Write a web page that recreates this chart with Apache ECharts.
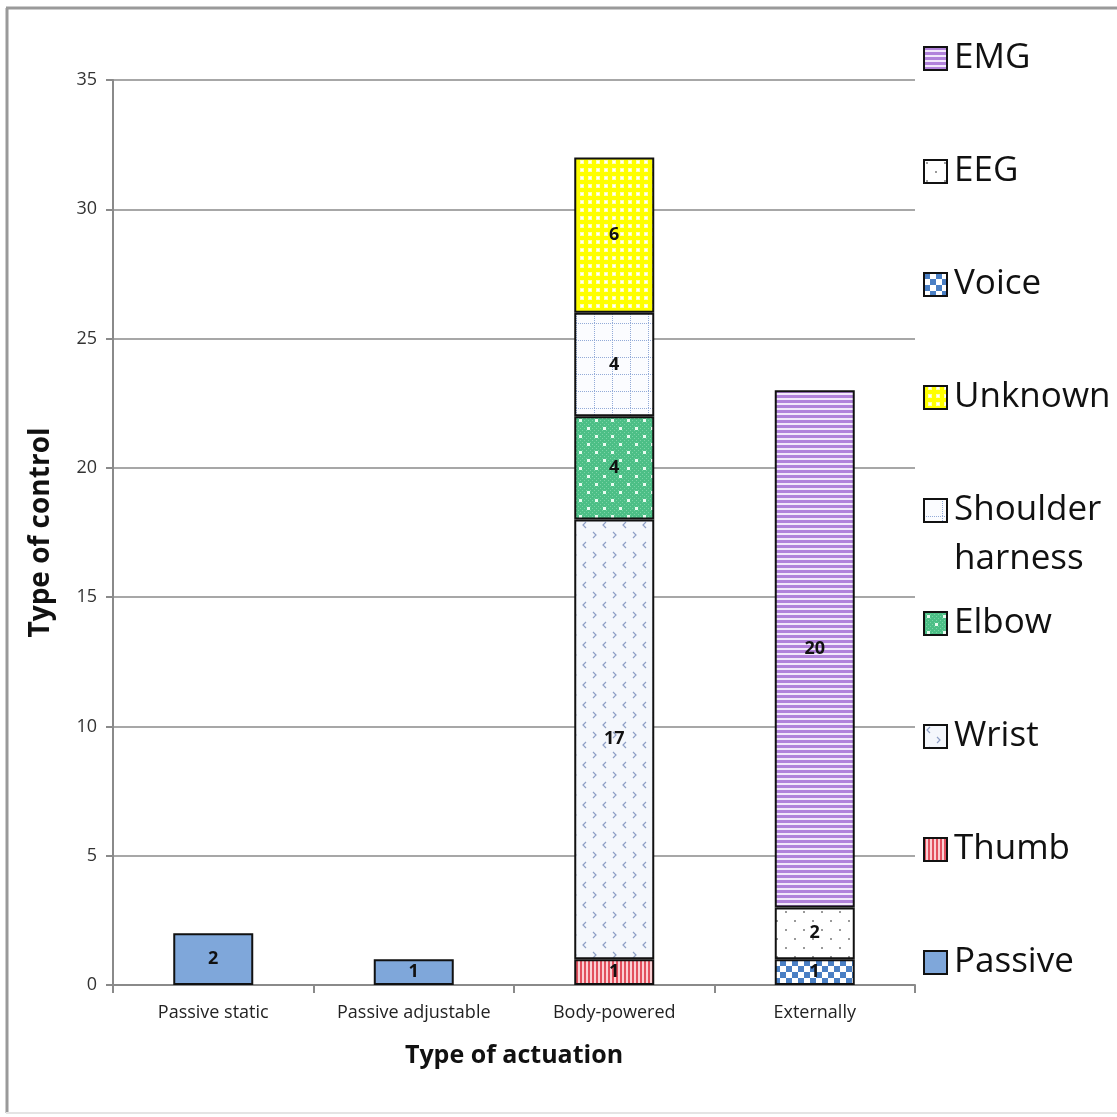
<!DOCTYPE html>
<html>
<head>
<meta charset="utf-8">
<style>
html,body{margin:0;padding:0;background:#fff;}
#chart{width:1117px;height:1117px;}
</style>
<script src="https://cdn.jsdelivr.net/npm/echarts@6/dist/echarts.min.js"></script>
</head>
<body>
<div id="chart"></div>
<script>
var categories = ['Passive static', 'Passive adjustable', 'Body-powered', 'Externally'];
var seriesNames = ['Passive', 'Thumb', 'Wrist', 'Elbow', 'Shoulder harness', 'Unknown', 'Voice', 'EEG', 'EMG'];
var passive = [2, 1, null, null];
var thumb = [null, null, 1, null];
var wrist = [null, null, 17, null];
var elbow = [null, null, 4, null];
var shoulder = [null, null, 4, null];
var unknown = [null, null, 6, null];
var voice = [null, null, null, 1];
var eeg = [null, null, null, 2];
var emg = [null, null, null, 20];
var yTicks = [0, 5, 10, 15, 20, 25, 30, 35];

function mk(w, h, draw) {
  var c = document.createElement('canvas');
  c.width = w; c.height = h;
  var g = c.getContext('2d');
  draw(g, w, h);
  return { image: c, repeat: 'repeat' };
}
var fills = {
  'Passive': '#7fa7da',
  'Thumb': mk(4, 4, function (g, w, h) {
    g.fillStyle = '#fbd0d4'; g.fillRect(0, 0, w, h);
    g.fillStyle = '#e2505e'; g.fillRect(0, 0, 2, h);
  }),
  'Wrist': mk(20, 20, function (g, w, h) {
    g.fillStyle = '#f4f7fc'; g.fillRect(0, 0, w, h);
    g.strokeStyle = '#8e9fc6'; g.lineWidth = 1.2;
    g.beginPath(); g.moveTo(6, 2); g.lineTo(3, 5); g.lineTo(6, 8); g.stroke();
    g.beginPath(); g.moveTo(13, 12); g.lineTo(16, 15); g.lineTo(13, 18); g.stroke();
  }),
  'Elbow': mk(16, 16, function (g, w, h) {
    g.fillStyle = '#4cbf86'; g.fillRect(0, 0, w, h);
    g.fillStyle = '#7ad3a6';
    for (var x = 0; x < w; x += 2) for (var y = 0; y < h; y += 2) if (((x + y) / 2) % 2 === 0) g.fillRect(x, y, 1, 1);
    g.fillStyle = '#e8fbf0';
    g.fillRect(3, 3, 3, 3); g.fillRect(11, 11, 3, 3);
  }),
  'Shoulder harness': mk(18, 17, function (g, w, h) {
    g.fillStyle = '#fbfcff'; g.fillRect(0, 0, w, h);
    g.fillStyle = '#93abd8';
    for (var i = 0; i < w; i += 2) { g.fillRect(i, 0, 1, 1); }
    for (var j = 0; j < h; j += 2) { g.fillRect(0, j, 1, 1); }
  }),
  'Unknown': mk(8, 8, function (g, w, h) {
    g.fillStyle = '#ffff00'; g.fillRect(0, 0, w, h);
    g.fillStyle = '#ffffb8';
    g.fillRect(4, 0, 4, 4);
    g.fillStyle = '#ffffff';
    g.fillRect(5, 1, 2, 2);
  }),
  'Voice': mk(12, 12, function (g, w, h) {
    g.fillStyle = '#ffffff'; g.fillRect(0, 0, w, h);
    g.fillStyle = '#4a7fc4';
    g.fillRect(0, 0, 6, 6); g.fillRect(6, 6, 6, 6);
  }),
  'EEG': mk(18, 18, function (g, w, h) {
    g.fillStyle = '#ffffff'; g.fillRect(0, 0, w, h);
    g.fillStyle = '#9a9a9a';
    g.fillRect(2, 2, 2, 2); g.fillRect(11, 11, 2, 2);
  }),
  'EMG': mk(5, 5, function (g, w, h) {
    g.fillStyle = '#f2e8fb'; g.fillRect(0, 0, w, h);
    g.fillStyle = '#b182db'; g.fillRect(0, 0, w, 3);
  })
};
var dataMap = {
  'Passive': passive, 'Thumb': thumb, 'Wrist': wrist, 'Elbow': elbow,
  'Shoulder harness': shoulder, 'Unknown': unknown, 'Voice': voice, 'EEG': eeg, 'EMG': emg
};

var series = seriesNames.map(function (n) {
  return {
    name: n, type: 'bar', stack: 'all', barWidth: 80,
    data: dataMap[n],
    itemStyle: { color: fills[n], borderColor: '#111', borderWidth: 2 },
    label: {
      show: true, position: 'inside', color: '#111', fontWeight: 'bold',
      fontSize: 18, fontFamily: 'Open Sans',
      formatter: function (p) { return p.value == null ? '' : p.value; }
    }
  };
});

var legendTops = {
  'EMG': 36, 'EEG': 149, 'Voice': 262, 'Unknown': 375, 'Shoulder harness': 488,
  'Elbow': 601, 'Wrist': 714, 'Thumb': 827, 'Passive': 940
};
var legends = seriesNames.map(function (n) {
  return {
    data: [n], left: 918, top: legendTops[n], orient: 'vertical',
    itemWidth: 23, itemHeight: 23, itemGap: 0, selectedMode: false,
    icon: 'rect',
    itemStyle: { borderColor: '#111', borderWidth: 2 },
    formatter: function (name) { return name === 'Shoulder harness' ? 'Shoulder' : name; },
    textStyle: { fontSize: 35, color: '#111', fontFamily: 'Open Sans', padding: [0, 0, 0, 2] }
  };
});

var chart = echarts.init(document.getElementById('chart'));
chart.setOption({
  animation: false,
  backgroundColor: '#fff',
  grid: { left: 113, right: 202, top: 80, bottom: 132, containLabel: false },
  legend: legends,
  graphic: [
    { type: 'line', shape: { x1: 7, y1: 8, x2: 7, y2: 1113 }, style: { stroke: '#9a9a9a', lineWidth: 3 } },
    { type: 'line', shape: { x1: 6, y1: 8, x2: 1117, y2: 8 }, style: { stroke: '#9a9a9a', lineWidth: 3 } },
    { type: 'line', shape: { x1: 6, y1: 1113, x2: 1117, y2: 1113 }, style: { stroke: '#e4e4e4', lineWidth: 2 } },
    { type: 'text', left: 954, top: 542, style: { text: 'harness', fontSize: 35, fill: '#111', fontFamily: 'Open Sans' } }
  ],
  xAxis: {
    type: 'category', data: categories,
    name: 'Type of actuation', nameLocation: 'middle', nameGap: 58,
    nameTextStyle: { fontSize: 25, fontWeight: 'bold', color: '#111', fontFamily: 'Open Sans' },
    axisLine: { lineStyle: { color: '#8a8a8a', width: 2 } },
    axisTick: { show: true, length: 8, lineStyle: { color: '#8a8a8a', width: 2 } },
    axisLabel: { fontSize: 18, color: '#222', margin: 19, fontFamily: 'Open Sans' }
  },
  yAxis: {
    type: 'value', min: 0, max: 35, interval: 5,
    name: 'Type of control', nameLocation: 'middle', nameGap: 58,
    nameTextStyle: { fontSize: 28, fontWeight: 'bold', color: '#111', fontFamily: 'Open Sans' },
    axisLine: { show: true, lineStyle: { color: '#8a8a8a', width: 2 } },
    axisTick: { show: true, length: 7, lineStyle: { color: '#8a8a8a', width: 2 } },
    axisLabel: {
      fontSize: 18, color: '#333', margin: 16, fontFamily: 'Open Sans',
      formatter: function (v) { return yTicks.indexOf(v) >= 0 ? String(v) : ''; }
    },
    splitLine: { lineStyle: { color: '#8a8a8a', width: 1.5 } }
  },
  series: series
});
</script>
</body>
</html>
